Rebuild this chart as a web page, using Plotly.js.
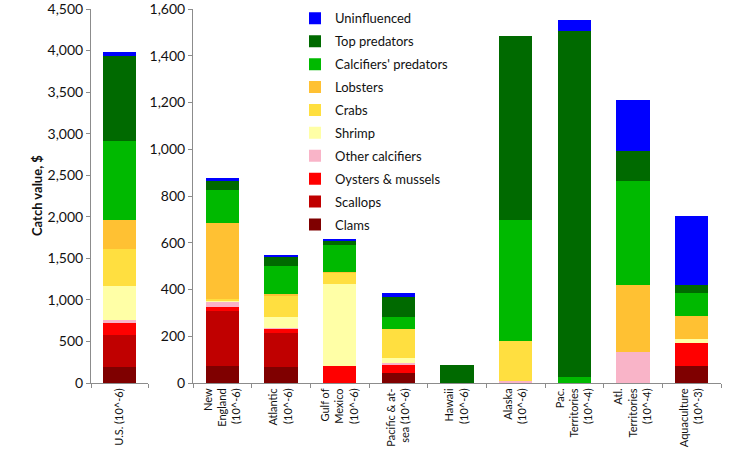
<!DOCTYPE html>
<html>
<head>
<meta charset="utf-8">
<script src="https://cdn.plot.ly/plotly-3.0.1.min.js"></script>
<style>
  html, body { margin: 0; padding: 0; background: #fff; }
  #chart { width: 734px; height: 456px; }
</style>
</head>
<body>
<div id="chart"></div>
<script>
// ─── Categories (first one goes on the left axis, the rest on the right) ───
const categories = [
    'U.S. (10^-6)',
    'New<br>England<br>(10^-6)',
    'Atlantic<br>(10^-6)',
    'Gulf of<br>Mexico<br>(10^-6)',
    'Pacific & at-<br>sea (10^-6)',
    'Hawaii<br>(10^-6)',
    'Alaska<br>(10^-6)',
    'Pac.<br>Territories<br>(10^-4)',
    'Atl.<br>Territories<br>(10^-4)',
    'Aquaculture<br>(10^-3)'
];

// ─── Catch value per group, stacked bottom → top ───
const clams      = [190,  73,  68,   0,  44,  0,   0,    0,   0,  71];
const scallops   = [390, 235, 147,   0,   0,  0,   0,    0,   0,   0];
const oysters    = [140,  18,  17,  72,  37,  0,   0,    0,   0, 100];
const otherCalc  = [ 40,  22,   2,   0,   3,  0,   8,    0, 133,   0];
const shrimp     = [413,   6,  47, 352,  24,  0,   0,    0,   0,  17];
const crabs      = [437,   4,  93,  48, 122,  0, 171,    0,   0,   0];
const lobsters   = [353, 328,   7,   4,   0,  0,   0,    0, 288,  97];
const calcPred   = [943, 140, 119, 114,  54,  2, 520,   25, 442, 100];
const topPred    = [1034, 39,  40,  19,  83, 74, 786, 1483, 128,  36];
const uninfl     = [ 41,  11,   5,   6,  18,  0,   0,   43, 218, 292];

const seriesNames  = ['Clams', 'Scallops', 'Oysters & mussels', 'Other calcifiers', 'Shrimp',
                      'Crabs', 'Lobsters', "Calcifiers' predators", 'Top predators', 'Uninfluenced'];
const seriesValues = [clams, scallops, oysters, otherCalc, shrimp,
                      crabs, lobsters, calcPred, topPred, uninfl];
const seriesColors = ['#7f0000', '#c00000', '#ff0000', '#f9b4c8', '#ffffa6',
                      '#ffdf40', '#ffc133', '#00b900', '#006a00', '#0000ff'];

const FONT = 'Lato, "Open Sans", sans-serif';
const AXIS_GREY = '#8c8c8c';

// one trace on the U.S. axis and one on the regions axis per series;
// legendrank puts the top of the stack at the top of the legend
const traces = [];
seriesNames.forEach((name, i) => {
    traces.push({
        type: 'bar',
        name: name,
        x: categories.slice(0, 1),
        y: seriesValues[i].slice(0, 1),
        xaxis: 'x',
        yaxis: 'y',
        legendgroup: name,
        legendrank: 100 - i,
        showlegend: false,
        marker: { color: seriesColors[i], line: { width: 0 } },
        hovertemplate: name + ': %{y:,}<extra></extra>'
    });
    traces.push({
        type: 'bar',
        name: name,
        x: categories.slice(1),
        y: seriesValues[i].slice(1),
        xaxis: 'x2',
        yaxis: 'y2',
        legendgroup: name,
        legendrank: 100 - i,
        showlegend: true,
        marker: { color: seriesColors[i], line: { width: 0 } },
        hovertemplate: name + ': %{y:,}<extra></extra>'
    });
});

const xCommon = {
    type: 'category',
    showline: true,
    linecolor: AXIS_GREY,
    linewidth: 1,
    ticks: 'outside',
    tickson: 'boundaries',
    ticklen: 4,
    tickcolor: AXIS_GREY,
    tickangle: -90,
    tickfont: { family: FONT, size: 11, color: '#111' },
    showgrid: false,
    zeroline: false,
    automargin: false,
    fixedrange: true
};

const yCommon = {
    showline: true,
    linecolor: AXIS_GREY,
    linewidth: 1,
    ticks: 'outside',
    ticklen: 4,
    tickcolor: AXIS_GREY,
    tickformat: ',',
    ticklabeloverflow: 'allow',
    tickfont: { family: FONT, size: 14, color: '#111' },
    showgrid: false,
    zeroline: false,
    automargin: false,
    fixedrange: true
};

const layout = {
    width: 734,
    height: 456,
    margin: { l: 0, r: 0, t: 9, b: 73 },
    paper_bgcolor: '#fff',
    plot_bgcolor: '#fff',
    font: { family: FONT, color: '#111' },
    barmode: 'stack',
    bargap: 0.43,
    showlegend: true,
    xaxis:  Object.assign({}, xCommon, { domain: [91 / 734, 148 / 734], anchor: 'y' }),
    xaxis2: Object.assign({}, xCommon, { domain: [193 / 734, 721 / 734], anchor: 'y2' }),
    yaxis:  Object.assign({}, yCommon, { range: [0, 4500], dtick: 500, anchor: 'x' }),
    yaxis2: Object.assign({}, yCommon, { range: [0, 1600], dtick: 200, anchor: 'x2' }),
    legend: {
        x: 295 / 734,
        y: 1.015,
        xanchor: 'left',
        yanchor: 'top',
        traceorder: 'grouped',
        tracegroupgap: 3,
        maxheight: 420,
        bgcolor: 'rgba(0,0,0,0)',
        font: { family: FONT, size: 13, color: '#111' }
    },
    annotations: [{
        text: '<b>Catch value, $</b>',
        xref: 'paper',
        yref: 'paper',
        x: 37 / 734,
        y: 0.5,
        xanchor: 'center',
        yanchor: 'middle',
        showarrow: false,
        textangle: -90,
        font: { family: FONT, size: 13, color: '#111' }
    }]
};

Plotly.newPlot('chart', traces, layout, { displayModeBar: false, responsive: false });
</script>
</body>
</html>
